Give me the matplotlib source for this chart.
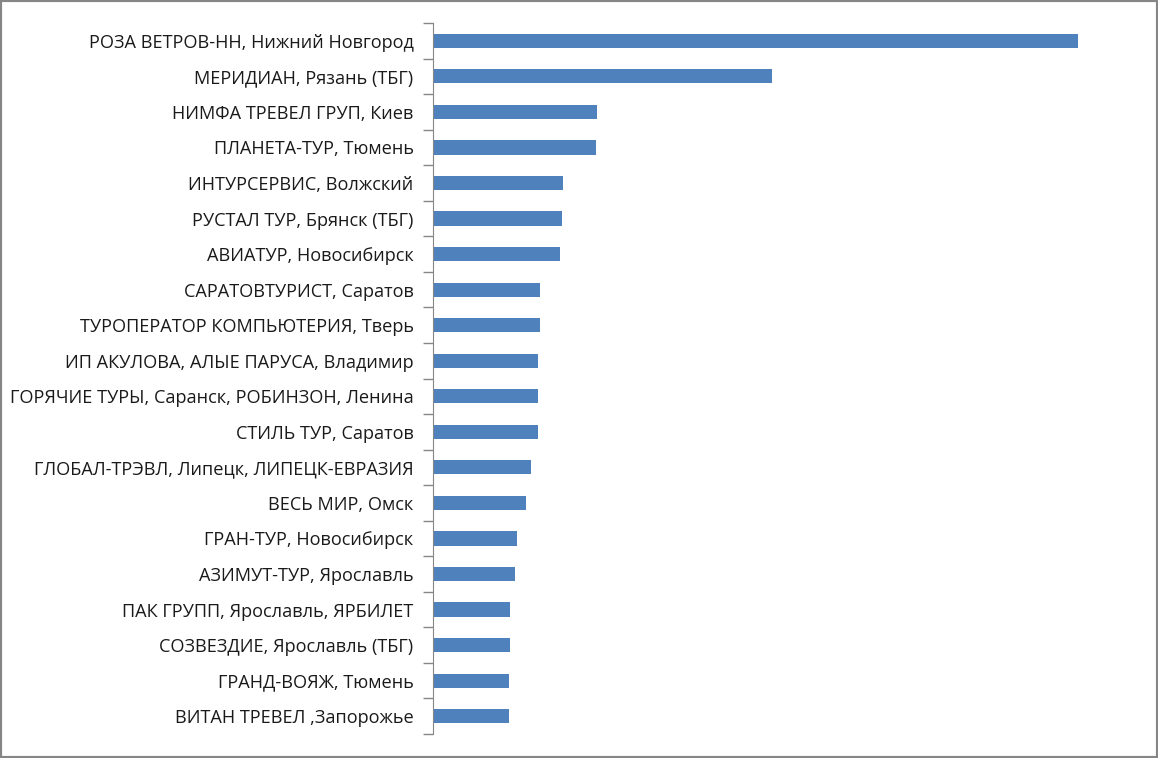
import numpy as np
import matplotlib.pyplot as plt
from matplotlib.patches import Rectangle

agencies = [
    "РОЗА ВЕТРОВ-НН, Нижний Новгород",
    "МЕРИДИАН, Рязань (ТБГ)",
    "НИМФА ТРЕВЕЛ ГРУП, Киев",
    "ПЛАНЕТА-ТУР, Тюмень",
    "ИНТУРСЕРВИС, Волжский",
    "РУСТАЛ ТУР, Брянск (ТБГ)",
    "АВИАТУР, Новосибирск",
    "САРАТОВТУРИСТ, Саратов",
    "ТУРОПЕРАТОР КОМПЬЮТЕРИЯ, Тверь",
    "ИП АКУЛОВА, АЛЫЕ ПАРУСА, Владимир",
    "ГОРЯЧИЕ ТУРЫ, Саранск, РОБИНЗОН, Ленина",
    "СТИЛЬ ТУР, Саратов",
    "ГЛОБАЛ-ТРЭВЛ, Липецк, ЛИПЕЦК-ЕВРАЗИЯ",
    "ВЕСЬ МИР, Омск",
    "ГРАН-ТУР, Новосибирск",
    "АЗИМУТ-ТУР, Ярославль",
    "ПАК ГРУПП, Ярославль, ЯРБИЛЕТ",
    "СОЗВЕЗДИЕ, Ярославль (ТБГ)",
    "ГРАНД-ВОЯЖ, Тюмень",
    "ВИТАН ТРЕВЕЛ ,Запорожье",
]
# bar lengths (no scale shown)
values = [645, 339, 164, 163, 130, 129, 127, 107, 107, 105,
          105, 105, 98, 93, 84, 82, 77, 77, 76, 76]

plt.rcParams['font.family'] = ['Open Sans', 'DejaVu Sans']

fig = plt.figure(figsize=(11.58, 7.58), dpi=100)
ax = fig.add_axes([433 / 1158, 1 - 734 / 758, 707 / 1158, 711 / 758])

n = len(agencies)
y = np.arange(n)
ax.barh(y, values, height=0.4, color='#4F81BD')
ax.set_ylim(n - 0.5, -0.5)
ax.set_xlim(0, 707)

ax.set_yticks(y)
ax.set_yticklabels(agencies, fontsize=13.1, color='#1a1a1a')
ax.tick_params(axis='y', which='major', length=0, pad=14)
ax.set_yticks(np.arange(n + 1) - 0.5, minor=True)
ax.tick_params(axis='y', which='minor', length=7, color='#868686', width=1)
ax.set_xticks([])

for s in ['top', 'right', 'bottom']:
    ax.spines[s].set_visible(False)
ax.spines['left'].set_color('#868686')

fig.patches.append(Rectangle((0, 0), 1, 1, transform=fig.transFigure,
                             fill=False, edgecolor='#868686', linewidth=3))

fig.savefig('out.png', dpi=100)
